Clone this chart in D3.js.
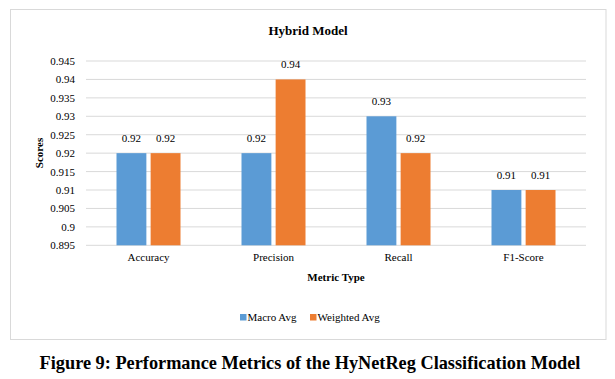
<!DOCTYPE html>
<html><head><meta charset="utf-8">
<script src="https://cdn.jsdelivr.net/npm/d3@7"></script>
</head>
<body style="margin:0;background:#fff">
<svg id="c" width="615" height="379" font-family="Liberation Serif"></svg>
<script>
const categories = ["Accuracy", "Precision", "Recall", "F1-Score"];
const seriesNames = ["Macro Avg", "Weighted Avg"];
const macroAvg = [0.92, 0.92, 0.93, 0.91];
const weightedAvg = [0.92, 0.94, 0.92, 0.91];
const yTicks = [0.895, 0.9, 0.905, 0.91, 0.915, 0.92, 0.925, 0.93, 0.935, 0.94, 0.945];
const colors = ["#5B9BD5", "#ED7D31"];

(function () {
const svg = d3.select("#c");
const pLeft = 86, pRight = 586, pTop = 61, pBottom = 245.3;

// chart border
svg.append("rect").attr("x", 10.5).attr("y", 9.5).attr("width", 595.5).attr("height", 330)
  .attr("fill", "#fff").attr("stroke", "#D9D9D9").attr("stroke-width", 1);

const x = d3.scaleBand().domain(categories).range([pLeft, pRight]).paddingInner(0.488).paddingOuter(0.244);
const xs = d3.scaleBand().domain(seriesNames).range([0, x.bandwidth()]).paddingInner(0.125);
const y = d3.scaleLinear().domain([0.895, 0.945]).range([pBottom, pTop]);

// gridlines
svg.append("g").selectAll("line").data(yTicks).join("line")
  .attr("x1", pLeft).attr("x2", pRight)
  .attr("y1", d => y(d)).attr("y2", d => y(d))
  .attr("stroke", "#D9D9D9").attr("stroke-width", 1);

// y axis labels
const yAxis = d3.axisLeft(y).tickValues(yTicks).tickSize(0).tickPadding(11)
  .tickFormat(d => String(+d.toFixed(3)));
const ga = svg.append("g").attr("transform", `translate(${pLeft},0)`).call(yAxis)
  .attr("font-size", 11);
ga.select(".domain").remove();
ga.selectAll("text").attr("fill", "#000");

// x axis labels
const xAxis = d3.axisBottom(x).tickSize(0).tickPadding(8);
const gx = svg.append("g").attr("transform", `translate(0,${pBottom})`).call(xAxis)
  .attr("font-size", 11);
gx.select(".domain").remove();
gx.selectAll("text").attr("fill", "#000");

const data = categories.map((c, i) => ({c, vals: [macroAvg[i], weightedAvg[i]]}));
const groups = svg.append("g").selectAll("g").data(data).join("g")
  .attr("transform", d => `translate(${x(d.c)},0)`);
groups.selectAll("rect").data(d => d.vals.map((v, j) => ({v, s: seriesNames[j], j}))).join("rect")
  .attr("x", d => xs(d.s)).attr("width", xs.bandwidth())
  .attr("y", d => y(d.v)).attr("height", d => pBottom - y(d.v))
  .attr("fill", d => colors[d.j]);
groups.selectAll("text.lbl").data(d => d.vals.map((v, j) => ({v, s: seriesNames[j], j}))).join("text")
  .attr("class", "lbl")
  .attr("x", d => xs(d.s) + xs.bandwidth() / 2).attr("y", d => y(d.v) - 11)
  .attr("text-anchor", "middle").attr("font-size", 11)
  .text(d => d.v.toFixed(2));

// title
svg.append("text").attr("x", 308).attr("y", 35).attr("text-anchor", "middle")
  .attr("font-size", 13).attr("font-weight", "bold").text("Hybrid Model");
// y label
svg.append("text").attr("transform", "translate(43,153) rotate(-90)").attr("text-anchor", "middle")
  .attr("font-size", 11).attr("font-weight", "bold").text("Scores");
// x label
svg.append("text").attr("x", 336).attr("y", 280.5).attr("text-anchor", "middle")
  .attr("font-size", 11).attr("font-weight", "bold").text("Metric Type");

// legend
const legendX = [240, 310];
const lg = svg.append("g").selectAll("g").data(seriesNames).join("g")
  .attr("transform", (d, i) => `translate(${legendX[i]},314)`);
lg.append("rect").attr("width", 6.5).attr("height", 6.5).attr("fill", (d, i) => colors[i]);
lg.append("text").attr("x", 7.5).attr("y", 7).attr("font-size", 11).text(d => d);

// caption
svg.append("text").attr("x", 310).attr("y", 369).attr("text-anchor", "middle")
  .attr("font-size", 18.3).attr("font-weight", "bold")
  .text("Figure 9: Performance Metrics of the HyNetReg Classification Model");

svg.selectAll("text").attr("font-family", null)
  .style("font-family", "'Liberation Serif', 'Times New Roman', Tinos, serif");
})();
</script>
</body></html>
